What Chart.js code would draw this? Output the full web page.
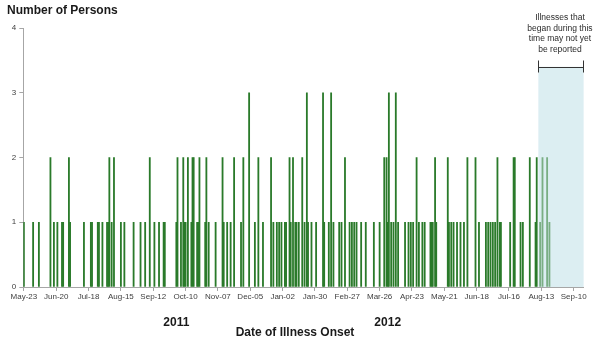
<!DOCTYPE html>
<html>
<head>
<meta charset="utf-8">
<script src="https://cdn.jsdelivr.net/npm/chart.js@4/dist/chart.umd.min.js"></script>
<style>
  html, body { margin: 0; padding: 0; background: #ffffff; }
  #wrap { width: 600px; height: 346px; position: relative; }
</style>
</head>
<body>
<div id="wrap"><canvas id="epi" width="600" height="346"></canvas></div>
<script>
// Epidemic curve: persons by date of illness onset, one bar per day.
const START_DATE = '2011-05-23';   // first day on the axis
const DAY_COUNT = 485;             // days shown on the axis
const TICK_STEP = 28;              // a labelled tick every four weeks

const tickLabels = ['May-23', 'Jun-20', 'Jul-18', 'Aug-15', 'Sep-12', 'Oct-10', 'Nov-07',
  'Dec-05', 'Jan-02', 'Jan-30', 'Feb-27', 'Mar-26', 'Apr-23', 'May-21', 'Jun-18',
  'Jul-16', 'Aug-13', 'Sep-10'];

const yearLabels = ['2011', '2012'];
const yearLabelDays = [132, 315];    // day offsets the year captions sit under

// Onset day (days after START_DATE) and number of persons with that onset day
const onsetDay = [
  0, 8, 13, 23, 26, 29, 33, 34, 39, 40,
  52, 58, 59, 64, 65, 68, 72, 73, 74, 76, 78, 84, 87,
  95, 101, 105, 109, 113, 117, 121, 122, 132, 133,
  136, 138, 139, 140, 142, 145, 146, 147, 150, 151, 152, 157, 158, 160, 166, 172, 173, 176,
  179, 182, 188, 190, 195, 200, 203, 207, 214, 216, 219, 221, 223,
  226, 227, 230, 231, 233, 235, 236, 238, 241, 243, 245, 246, 249, 253, 259, 260, 264, 266, 268,
  273, 275, 278, 282, 284, 286, 288, 292, 296, 303, 308, 312,
  314, 315, 316, 318, 320, 322, 324, 330, 333, 335, 337, 340, 342, 345, 347, 352, 353, 354, 356, 357,
  367, 368, 370, 372, 375, 378, 381, 384, 391, 394, 400, 402,
  404, 406, 408, 410, 412, 413, 421, 424, 425, 430, 432, 438, 443, 444,
  447, 449, 453, 455
];
const persons = [
  1, 1, 1, 2, 1, 1, 1, 1, 2, 1,
  1, 1, 1, 1, 1, 1, 1, 1, 2, 1, 2, 1, 1,
  1, 1, 1, 2, 1, 1, 1, 1, 1, 2,
  1, 2, 1, 1, 2, 1, 2, 2, 1, 1, 2, 1, 2, 1, 1, 2, 1, 1,
  1, 2, 1, 2, 3, 1, 2, 1, 2, 1, 1, 1, 1,
  1, 1, 2, 1, 2, 1, 1, 1, 2, 1, 3, 1, 1, 1, 3, 1, 1, 3, 1,
  1, 1, 2, 1, 1, 1, 1, 1, 1, 1, 1, 2,
  2, 1, 3, 1, 1, 3, 1, 1, 1, 1, 1, 2, 1, 1, 1, 1, 1, 1, 2, 1,
  2, 1, 1, 1, 1, 1, 1, 2, 2, 1, 1, 1,
  1, 1, 1, 2, 1, 1, 1, 2, 2, 1, 1, 2, 1, 2,
  1, 2, 2, 1
];

// Reporting-lag window: illnesses from this day on may not yet be reported
const LAG_START_DAY = 446;
const LAG_TOP_VALUE = 3.4;
const lagNote = ['Illnesses that', 'began during this', 'time may not yet', 'be reported'];

// ---- build the daily categories and counts ----
const MONTHS = ['Jan', 'Feb', 'Mar', 'Apr', 'May', 'Jun', 'Jul', 'Aug', 'Sep', 'Oct', 'Nov', 'Dec'];
const start = new Date(START_DATE + 'T00:00:00Z');
const days = [];
for (let i = 0; i < DAY_COUNT; i++) {
  const d = new Date(start.getTime() + i * 86400000);
  days.push(MONTHS[d.getUTCMonth()] + '-' + String(d.getUTCDate()).padStart(2, '0') + '-' + d.getUTCFullYear());
}
const counts = new Array(DAY_COUNT).fill(null);
onsetDay.forEach((day, k) => { counts[day] = persons[k]; });

const FONT = "'Liberation Sans', Arial, sans-serif";
Chart.defaults.font.family = FONT;
Chart.defaults.color = '#404040';

// Shaded lag window, bracket, note and the extra captions
const annotations = {
  id: 'epiAnnotations',
  lagRect(chart) {
    const x = chart.scales.x, y = chart.scales.y;
    const half = x.width / DAY_COUNT / 2;
    return {
      left: x.getPixelForValue(LAG_START_DAY) - half,
      right: chart.chartArea.right,
      top: y.getPixelForValue(LAG_TOP_VALUE),
      bottom: chart.chartArea.bottom
    };
  },
  beforeDatasetsDraw(chart) {
    const r = this.lagRect(chart), ctx = chart.ctx;
    ctx.save();
    ctx.fillStyle = '#DCEEF2';
    ctx.fillRect(r.left, r.top, r.right - r.left, r.bottom - r.top);
    ctx.restore();
  },
  afterDatasetsDraw(chart) {
    const r = this.lagRect(chart), ctx = chart.ctx;
    ctx.save();
    // translucent wash over the bars inside the window
    ctx.fillStyle = 'rgba(220, 238, 242, 0.45)';
    ctx.fillRect(r.left, r.top, r.right - r.left, r.bottom - r.top);
    // bracket
    ctx.strokeStyle = '#333333';
    ctx.lineWidth = 1;
    const by = Math.round(r.top) + 0.5;
    ctx.beginPath();
    ctx.moveTo(Math.round(r.left) + 0.5, by - 7);
    ctx.lineTo(Math.round(r.left) + 0.5, by + 5);
    ctx.moveTo(Math.round(r.left) + 0.5, by);
    ctx.lineTo(Math.round(r.right) - 0.5, by);
    ctx.moveTo(Math.round(r.right) - 0.5, by - 7);
    ctx.lineTo(Math.round(r.right) - 0.5, by + 5);
    ctx.stroke();
    // note
    ctx.fillStyle = '#2a2a2a';
    ctx.font = '8.5px ' + FONT;
    ctx.textAlign = 'center';
    ctx.textBaseline = 'middle';
    const cx = (r.left + r.right) / 2 - 1;
    lagNote.forEach((line, i) => ctx.fillText(line, cx, by - 49.5 + i * 10.4));
    ctx.restore();
  },
  afterDraw(chart) {
    const ctx = chart.ctx, x = chart.scales.x;
    ctx.save();
    ctx.fillStyle = '#1a1a1a';
    ctx.textBaseline = 'middle';
    ctx.font = 'bold 12px ' + FONT;
    ctx.textAlign = 'left';
    ctx.fillText('Number of Persons', 7, 11);
    ctx.textAlign = 'center';
    yearLabels.forEach((yr, i) => ctx.fillText(yr, x.getPixelForValue(yearLabelDays[i]), 323));
    ctx.fillText('Date of Illness Onset', 295, 333);
    ctx.restore();
  }
};

new Chart(document.getElementById('epi'), {
  type: 'bar',
  data: {
    labels: days,
    datasets: [{
      data: counts,
      backgroundColor: '#2a7a2a',
      borderWidth: 0,
      barPercentage: 1.0,
      categoryPercentage: 1.0
    }]
  },
  options: {
    responsive: false,
    animation: false,
    devicePixelRatio: 1,
    layout: { padding: { top: 28, right: 16.5, bottom: 0, left: 0 } },
    plugins: { legend: { display: false }, tooltip: { enabled: false } },
    scales: {
      x: {
        afterFit(scale) { scale.height = 59; },
        border: { display: true, color: '#a6a6a6' },
        grid: { display: true, drawOnChartArea: false, drawTicks: true, tickLength: 4, offset: false, color: '#a6a6a6' },
        ticks: {
          autoSkip: false,
          maxRotation: 0,
          minRotation: 0,
          padding: 1,
          font: { size: 8 },
          color: '#404040',
          callback: (value, index) => (index % TICK_STEP === 0 ? tickLabels[index / TICK_STEP] : null)
        }
      },
      y: {
        min: 0,
        max: 4,
        afterFit(scale) { scale.width = 23.3; },
        border: { display: true, color: '#a6a6a6' },
        grid: { display: true, drawOnChartArea: false, drawTicks: true, tickLength: 4, color: '#a6a6a6' },
        ticks: { stepSize: 1, padding: 3, font: { size: 8 }, color: '#404040' }
      }
    }
  },
  plugins: [annotations]
});
</script>
</body>
</html>
